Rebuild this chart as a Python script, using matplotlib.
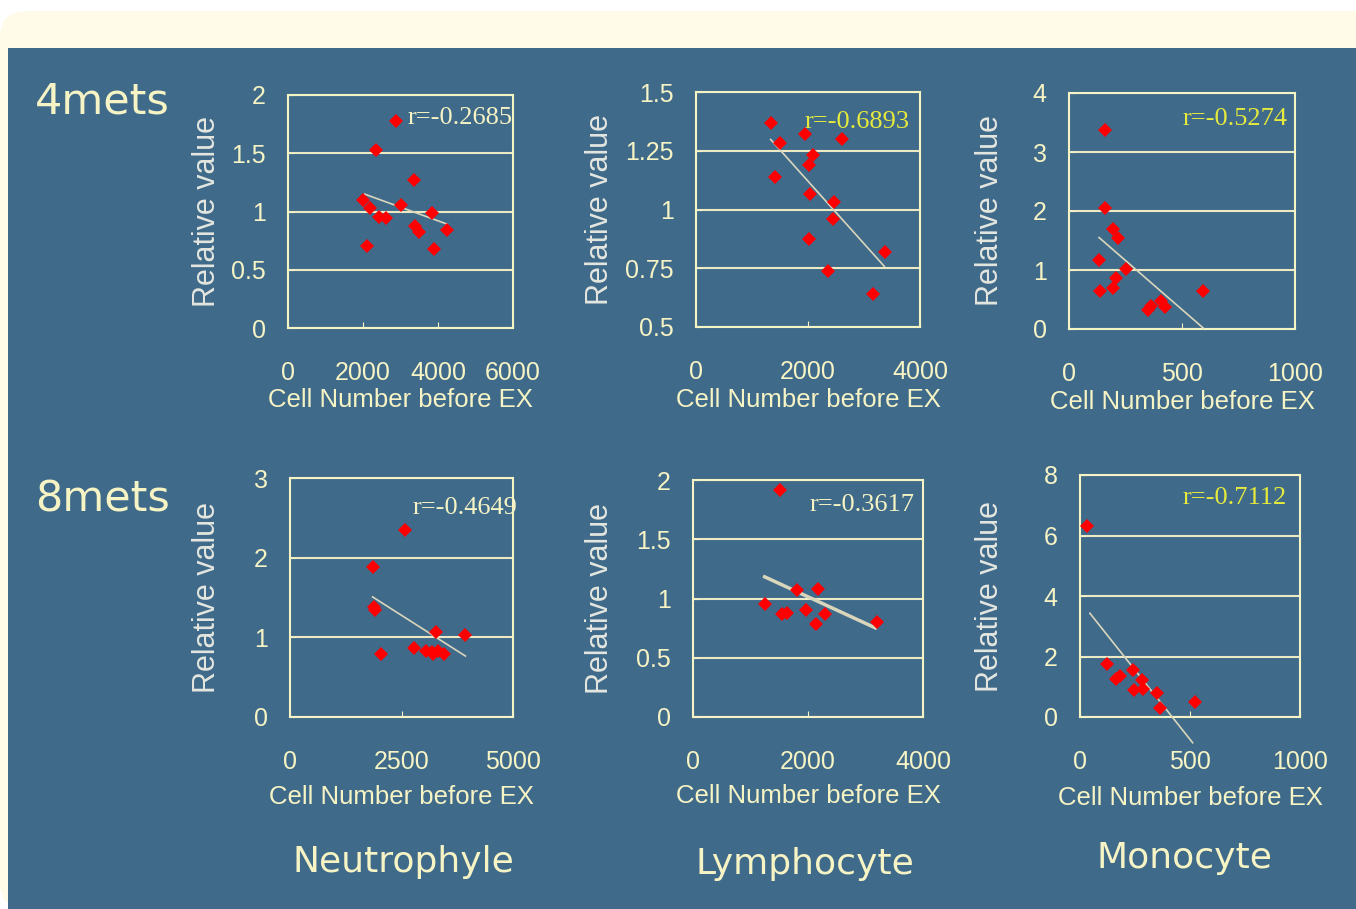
import numpy as np
import matplotlib.pyplot as plt
from matplotlib.patches import Rectangle, FancyBboxPatch

# ---- data ----
row_names = ['4mets', '8mets']
col_names = ['Neutrophyle', 'Lymphocyte', 'Monocyte']

# 4mets
neu4_x = [2871, 2356, 2009, 2196, 2418, 2622, 3022, 3351, 3387, 3493, 3840, 3884, 2107, 4231]
neu4_y = [1.78, 1.527, 1.097, 1.034, 0.954, 0.948, 1.06, 1.27, 0.877, 0.825, 0.983, 0.679, 0.708, 0.84]
lym4_x = [1333, 1500, 1417, 1940, 2613, 2083, 2024, 2036, 2464, 2452, 2024, 2363, 3375, 3167]
lym4_y = [1.368, 1.281, 1.140, 1.320, 1.299, 1.232, 1.190, 1.066, 1.032, 0.958, 0.874, 0.740, 0.820, 0.642]
mon4_x = [158, 158, 195, 217, 133, 254, 210, 139, 195, 350, 365, 409, 424, 594]
mon4_y = [3.365, 2.05, 1.70, 1.55, 1.175, 1.02, 0.87, 0.64, 0.687, 0.33, 0.386, 0.47, 0.375, 0.64]
# 8mets
neu8_x = [2582, 1851, 1890, 1900, 2030, 2776, 3284, 3918, 3060, 3187, 3313, 3448, 3209]
neu8_y = [2.353, 1.878, 1.38, 1.34, 0.794, 0.866, 1.067, 1.034, 0.824, 0.815, 0.824, 0.794, 0.794]
lym8_x = [1519, 1246, 1554, 1635, 1809, 2174, 1971, 2145, 2290, 3206]
lym8_y = [1.915, 0.955, 0.865, 0.879, 1.068, 1.076, 0.899, 0.786, 0.865, 0.803]
mon8_x = [33, 121, 162, 182, 242, 245, 283, 285, 348, 364, 523]
mon8_y = [6.30, 1.75, 1.24, 1.35, 1.57, 0.88, 1.21, 0.93, 0.79, 0.30, 0.49]

# trend line end points
trend_x = [[2044, 4249], [1333, 3363], [133, 594], [1851, 3933], [1246, 3171], [45, 512]]
trend_y = [[1.149, 0.891], [1.298, 0.758], [1.55, 0.017], [1.508, 0.765], [1.183, 0.752], [3.43, -0.85]]

r_values = ['r=-0.2685', 'r=-0.6893', 'r=-0.5274', 'r=-0.4649', 'r=-0.3617', 'r=-0.7112']

x_ticks = [[0, 2000, 4000, 6000], [0, 2000, 4000], [0, 500, 1000],
           [0, 2500, 5000], [0, 2000, 4000], [0, 500, 1000]]
y_ticks = [[0, 0.5, 1, 1.5, 2], [0.5, 0.75, 1, 1.25, 1.5], [0, 1, 2, 3, 4],
           [0, 1, 2, 3], [0, 0.5, 1, 1.5, 2], [0, 2, 4, 6, 8]]
y_ticklabels = [['0', '0.5', '1', '1.5', '2'], ['0.5', '0.75', '1', '1.25', '1.5'],
                ['0', '1', '2', '3', '4'], ['0', '1', '2', '3'],
                ['0', '0.5', '1', '1.5', '2'], ['0', '2', '4', '6', '8']]

xs = [neu4_x, lym4_x, mon4_x, neu8_x, lym8_x, mon8_x]
ys = [neu4_y, lym4_y, mon4_y, neu8_y, lym8_y, mon8_y]

# ---- styling ----
BLUE = '#3f6a8a'
CREAM = '#f6f3c4'
PALE = '#fffbe8'
YELLOW = '#e6ea3c'
r_colors = [CREAM, YELLOW, YELLOW, CREAM, CREAM, YELLOW]
r_pos = [(1.0, 0.90), (0.955, 0.872), (0.969, 0.89), (1.018, 0.874), (0.965, 0.894), (0.94, 0.905)]
trend_w = [1.2, 1.2, 1.2, 1.2, 2.5, 1.2]
ylab_x = [-0.36, -0.429, -0.35, -0.372, -0.404, -0.409]
xlab_y = [-0.31, -0.31, -0.31, -0.335, -0.335, -0.335]

W, H = 1356, 909
rects = [(288, 95, 513, 328), (696, 92, 920, 327), (1069, 93, 1295, 329),
         (290, 478, 513, 717), (693, 480, 923, 717), (1080, 475, 1300, 717)]

fig = plt.figure(figsize=(W / 100, H / 100), dpi=100)
fig.patch.set_facecolor('white')

# background blocks
fig.patches.append(FancyBboxPatch((0, 0), 1.2, 1 - 11 / H, boxstyle='round,pad=0,rounding_size=0.02',
                                  transform=fig.transFigure, facecolor=PALE, edgecolor='none',
                                  mutation_aspect=W / H, zorder=-3))
fig.patches.append(Rectangle((8 / W, 0), 1, 1 - 48 / H, transform=fig.transFigure,
                             facecolor=BLUE, edgecolor='none', zorder=-2))

for i in range(6):
    x0, y0, x1, y1 = rects[i]
    ax = fig.add_axes([x0 / W, 1 - y1 / H, (x1 - x0) / W, (y1 - y0) / H])
    ax.set_facecolor(BLUE)
    for s in ax.spines.values():
        s.set_color(CREAM)
        s.set_linewidth(1.5)
    ax.set_xlim(x_ticks[i][0], x_ticks[i][-1])
    ax.set_ylim(y_ticks[i][0], y_ticks[i][-1])
    ax.set_xticks(x_ticks[i])
    ax.set_yticks(y_ticks[i])
    ax.set_yticklabels(y_ticklabels[i])
    ax.tick_params(axis='both', direction='in', length=4, color=CREAM, labelcolor=CREAM,
                   labelsize=18)
    ax.tick_params(axis='x', pad=24)
    ax.tick_params(axis='y', pad=16)
    for lab in ax.get_xticklabels() + ax.get_yticklabels():
        lab.set_family('Liberation Sans')
    ax.grid(axis='y', color='#ece9c4', linewidth=1.5)
    ax.set_axisbelow(True)

    ax.plot(trend_x[i], trend_y[i], color='#d9d6bc', linewidth=trend_w[i], clip_on=False, zorder=3)
    ax.plot(xs[i], ys[i], linestyle='none', marker='D', markersize=7.5, color='#ff0000',
            markeredgewidth=0, zorder=4)

    ax.text(r_pos[i][0], r_pos[i][1], r_values[i], transform=ax.transAxes, ha='right',
            va='center', color=r_colors[i], fontsize=19, family='Liberation Serif', zorder=5)

    ax.set_xlabel('Cell Number before EX', color=CREAM, fontsize=18.5, family='Liberation Sans',
                  va='center')
    ax.set_ylabel('Relative value', color='#e4e6e0', fontsize=22, family='Liberation Sans',
                  va='center')
    ax.xaxis.set_label_coords(0.5, xlab_y[i])
    ax.yaxis.set_label_coords(ylab_x[i], 0.5)

# row and column titles
row_y = [102, 500]
for name, yy in zip(row_names, row_y):
    fig.text(35 / W, 1 - yy / H, name, color=CREAM, fontsize=31, family='DejaVu Sans',
             ha='left', va='center', zorder=5)

col_x = [403, 805, 1184]
col_y = [862, 864, 858]
for name, xx, yy in zip(col_names, col_x, col_y):
    fig.text(xx / W, 1 - yy / H, name, color=CREAM, fontsize=26, family='DejaVu Sans',
             ha='center', va='center', zorder=5)

fig.savefig('out.png', dpi=100, facecolor=fig.get_facecolor())
